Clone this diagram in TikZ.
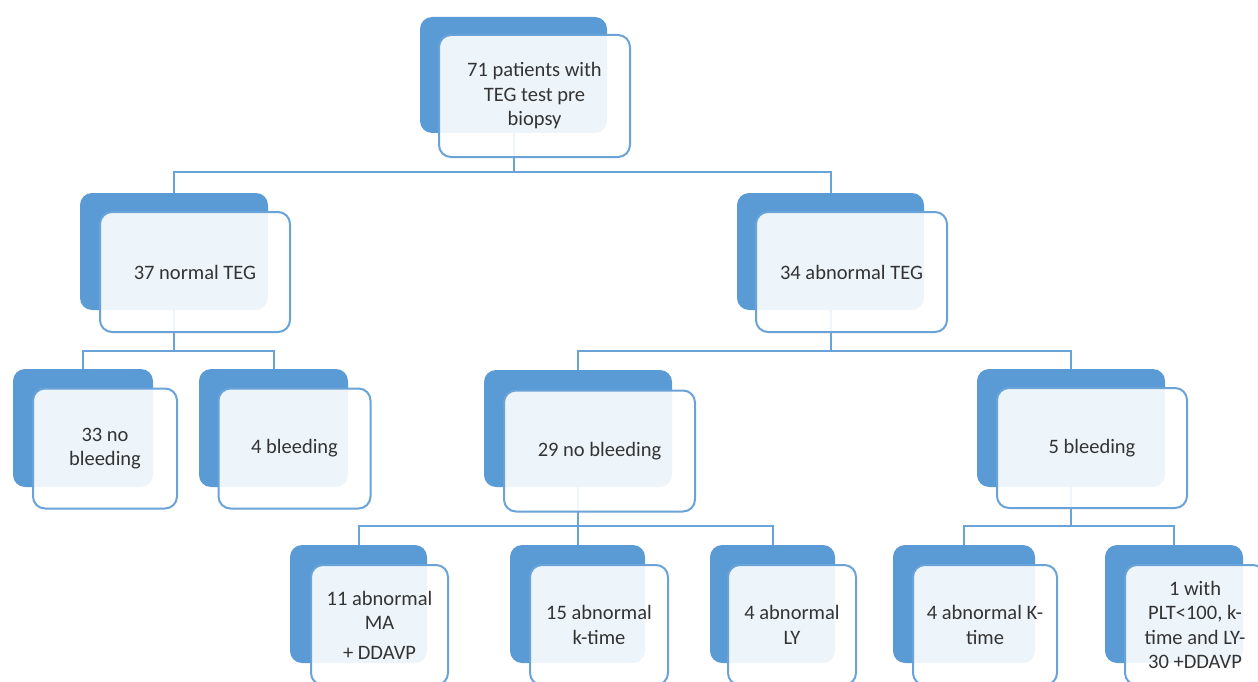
\documentclass[tikz,border=0pt]{standalone}
\usepackage{fontspec}
\setmainfont{Carlito}
\definecolor{tegblue}{HTML}{5B9BD5}
\definecolor{tegline}{HTML}{6AA3D8}
\definecolor{tegtext}{HTML}{333333}
\begin{document}
\begin{tikzpicture}[x=1pt, y=-1pt,
  back/.style = {fill=tegblue, rounded corners=12pt, inner sep=0pt},
  front/.style = {draw=tegline, line width=2pt, fill=white, fill opacity=0.9, text opacity=1,
    rounded corners=12pt, inner sep=2pt, align=center, text=tegtext,
    font=\fontsize{20.5}{24.5}\selectfont},
  link/.style = {draw=tegline, line width=2pt}]
\useasboundingbox (0,0) rectangle (1258,682);
% back boxes
\node[back, minimum width=187pt, minimum height=116pt] (rootb) at (513.5,75) {};
\node[back, minimum width=188pt, minimum height=117pt] (normb) at (174,251.5) {};
\node[back, minimum width=187pt, minimum height=117pt] (abnb) at (830.5,251.5) {};
\node[back, minimum width=140pt, minimum height=118pt] (nob33b) at (83,428) {};
\node[back, minimum width=149pt, minimum height=118pt] (bl4b) at (273.5,428) {};
\node[back, minimum width=188pt, minimum height=117pt] (nob29b) at (578,428.5) {};
\node[back, minimum width=188pt, minimum height=118pt] (bl5b) at (1071,428) {};
\node[back, minimum width=137pt, minimum height=118pt] (ma11b) at (358.5,604) {};
\node[back, minimum width=135pt, minimum height=118pt] (kt15b) at (577.5,604) {};
\node[back, minimum width=125pt, minimum height=118pt] (ly4b) at (772.5,604) {};
\node[back, minimum width=142pt, minimum height=118pt] (kt4b) at (964,604) {};
\node[back, minimum width=138pt, minimum height=118pt] (plt1b) at (1174,604) {};
% connectors
\path[link] (rootb.south) -- ++(0,39) -| (normb.north);
\path[link] (rootb.south) -- ++(0,39) -| (abnb.north);
\path[link] (normb.south) -- ++(0,41) -| (nob33b.north);
\path[link] (normb.south) -- ++(0,41) -| (bl4b.north);
\path[link] (abnb.south) -- ++(0,41) -| (nob29b.north);
\path[link] (abnb.south) -- ++(0,41) -| (bl5b.north);
\path[link] (nob29b.south) -- ++(0,39) -| (ma11b.north);
\path[link] (nob29b.south) -- ++(0,39) -| (kt15b.north);
\path[link] (nob29b.south) -- ++(0,39) -| (ly4b.north);
\path[link] (bl5b.south) -- ++(0,39) -| (kt4b.north);
\path[link] (bl5b.south) -- ++(0,39) -| (plt1b.north);
% front boxes
\node[front, minimum width=191pt, minimum height=122pt] (root) at (534.5,96) {71 patients with\\TEG test pre\\biopsy};
\node[front, minimum width=190pt, minimum height=120pt] (norm) at (195,272) {37 normal TEG};
\node[front, minimum width=191pt, minimum height=120pt] (abn) at (851.5,272) {34 abnormal TEG};
\node[front, minimum width=144pt, minimum height=120pt] (nob33) at (105,448.5) {33 no\\bleeding};
\node[front, minimum width=152pt, minimum height=120pt] (bl4) at (294.5,448.5) {4 bleeding};
\node[front, minimum width=191pt, minimum height=121pt] (nob29) at (599.5,451) {29 no bleeding};
\node[front, minimum width=190pt, minimum height=120pt] (bl5) at (1092,448) {5 bleeding};
\node[front, minimum width=137pt, minimum height=120pt] (ma11) at (379.5,625) {11 abnormal\\MA\\[5pt]+ DDAVP};
\node[front, minimum width=138pt, minimum height=120pt] (kt15) at (599,625) {15 abnormal\\k-time};
\node[front, minimum width=128pt, minimum height=120pt] (ly4) at (792,625) {4 abnormal\\LY};
\node[front, minimum width=144pt, minimum height=120pt] (kt4) at (985,625) {4 abnormal K-\\time};
\node[front, minimum width=140pt, minimum height=120pt] (plt1) at (1195,625) {1 with\\PLT<100, k-\\time and LY-\\30 +DDAVP};
\end{tikzpicture}
\end{document}
